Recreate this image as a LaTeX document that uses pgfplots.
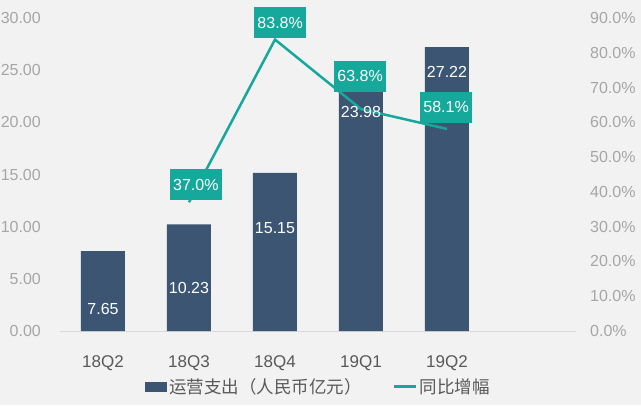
\documentclass[border=0pt]{standalone}
\usepackage{pgfplots}
\pgfplotsset{compat=1.18}
\usepackage{fontspec}
\setmainfont{Liberation Sans}
\newfontfamily\cjk{Noto Sans CJK SC}
\definecolor{bgc}{RGB}{242,242,242}
\definecolor{barc}{RGB}{59,85,115}
\definecolor{tealc}{RGB}{22,168,155}
\definecolor{tickc}{RGB}{166,166,166}
\definecolor{labc}{RGB}{89,89,89}
\definecolor{basec}{RGB}{217,217,217}
\begin{document}
\begin{tikzpicture}
\path[clip] (0,0) rectangle (641pt,405pt);
\fill[bgc] (0,0) rectangle (641pt,405pt);
\begin{axis}[
  at={(60pt,74pt)}, anchor=south west, scale only axis,
  width=516pt, height=313pt,
  xmin=-0.5, xmax=5.5, ymin=0, ymax=30,
  xtick={0,...,4}, xticklabels={18Q2,18Q3,18Q4,19Q1,19Q2},
  ytick={0,5,...,30}, yticklabels={0.00,5.00,10.00,15.00,20.00,25.00,30.00},
  axis line style={draw=none}, major tick length=0pt,
  tick label style={font=\fontsize{16}{19}\selectfont},
  yticklabel style={color=tickc, anchor=east, inner sep=0pt, xshift=-19pt},
  xticklabel style={color=labc, anchor=center, inner sep=0pt, yshift=-32pt, font=\fontsize{17}{20}\selectfont},
  extra y ticks={0}, extra y tick labels={},
  extra y tick style={grid=major, major grid style={basec, line width=1pt}},
  legend columns=-1,
  legend style={draw=none, fill=none, at={(0.5,0)}, anchor=center, yshift=-56pt,
    font=\fontsize{17.5}{20}\selectfont, text=labc,
    nodes={inner sep=1pt},
    /tikz/every odd column/.append style={column sep=1pt},
    /tikz/every even column/.append style={column sep=30pt}},
  clip=false,
]
\addplot[ybar, bar width=44pt, fill=barc, draw=none,
  legend image code/.code={\fill[barc] (0pt,-5pt) rectangle (22pt,5pt);}]
  coordinates {(0,7.65) (1,10.23) (2,15.15) (3,23.98) (4,27.22)};
\addlegendentry{\cjk 运营支出（人民币亿元）}
\addlegendimage{legend image code/.code={\draw[tealc, line width=3pt] (0pt,0pt) -- (22pt,0pt);}}
\addlegendentry{\cjk 同比增幅}
\end{axis}
\begin{axis}[
  at={(60pt,74pt)}, anchor=south west, scale only axis,
  width=516pt, height=313pt,
  xmin=-0.5, xmax=5.5, ymin=0, ymax=90,
  xtick=\empty,
  ytick={0,10,...,90},
  yticklabels={0.0\%,10.0\%,20.0\%,30.0\%,40.0\%,50.0\%,60.0\%,70.0\%,80.0\%,90.0\%},
  yticklabel pos=right,
  axis line style={draw=none}, major tick length=0pt,
  tick label style={font=\fontsize{16}{19}\selectfont},
  yticklabel style={color=tickc, anchor=west, inner sep=0pt, xshift=14pt},
  clip=false,
]
\addplot[tealc, line width=2.5pt, mark=none] coordinates {(1,37.0) (2,83.8) (3,63.8) (4,58.1)};
\begin{scope}[every node/.style={text=white, font=\fontsize{16}{19}\selectfont, inner sep=0pt}]
\node at (axis cs:0,6.3) {7.65};
\node at (axis cs:1,12.3) {10.23};
\node at (axis cs:2,29.7) {15.15};
\node at (axis cs:3,63) {23.98};
\node at (axis cs:4,74.4) {27.22};
\end{scope}
\begin{scope}[every node/.style={fill=tealc, text=white, font=\fontsize{16}{19}\selectfont, inner sep=0pt, minimum width=52pt, minimum height=31pt}]
\node at (axis cs:1.08,42.0) {37.0\%};
\node at (axis cs:2.06,88.6) {83.8\%};
\node at (axis cs:2.99,73.3) {63.8\%};
\node at (axis cs:3.99,64.4) {58.1\%};
\end{scope}
\end{axis}
\end{tikzpicture}
\end{document}
